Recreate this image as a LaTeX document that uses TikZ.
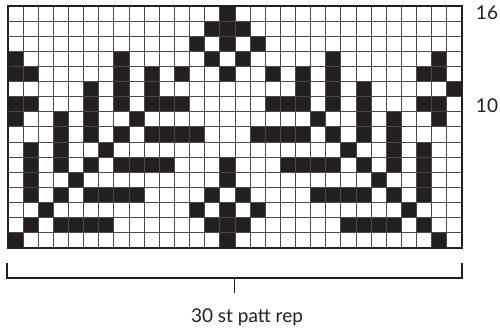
\documentclass[tikz,border=0pt]{standalone}
\usepackage{fontspec}
\setmainfont{Lato}
\definecolor{ink}{HTML}{231F20}
\definecolor{gridgray}{HTML}{4A4A4A}
\begin{document}
\begin{tikzpicture}[x=1pt,y=1pt,
  cellfill/.style={fill=ink},
  gridline/.style={draw=gridgray,line width=0.9pt},
  frameline/.style={draw=ink,line width=1.8pt},
  bracketline/.style={draw=ink,line width=1.9pt},
  lbl/.style={font=\fontsize{19}{21}\selectfont,text=ink,inner sep=0pt,anchor=base}]
\useasboundingbox (0,0) rectangle (500,333);
\def\cs{15.1333}
\def\gx{8}
\def\gy{85}
% filled cells, row 1 = bottom
\foreach \r/\cols in {
  1/{0,14,28},
  2/{1,3,4,5,6,13,14,15,22,23,24,25,27},
  3/{2,12,14,16,26},
  4/{1,3,5,6,7,8,13,15,20,21,22,23,25,27},
  5/{1,4,14,24,27},
  6/{1,3,5,7,8,9,10,14,18,19,20,21,23,25,27},
  7/{1,3,6,22,25,27},
  8/{3,5,7,9,10,11,12,16,17,18,19,21,23,25},
  9/{0,3,5,8,20,23,25,28},
  10/{0,1,5,7,9,10,11,17,18,19,21,23,27,28},
  11/{5,7,9,19,21,23,29},
  12/{0,1,7,9,11,14,17,19,21,27,28},
  13/{0,7,13,15,21,28},
  14/{12,14,16},
  15/{13,14,15},
  16/{14}}{
  \foreach \c in \cols {
    \fill[cellfill] ({\gx+\c*\cs},{\gy+(\r-1)*\cs}) rectangle ++(\cs,\cs);
  }
}
% grid lines
\foreach \i in {1,...,29} {
  \draw[gridline] ({\gx+\i*\cs},\gy) -- ++(0,{16*\cs});
}
\foreach \j in {1,...,15} {
  \draw[gridline] (\gx,{\gy+\j*\cs}) -- ++({30*\cs},0);
}
\draw[frameline] (\gx,\gy) rectangle ++({30*\cs},{16*\cs});
% row labels
\node[lbl] (r16) at (487,313) {16};
\node[lbl] (r10) at (487,221) {10};
% bracket
\coordinate (bl) at (7,70);
\coordinate (br) at (462,70);
\coordinate (bm) at (234.5,55);
\coordinate (bt) at (234.5,40);
\draw[bracketline] (bl) |- (bm) -| (br);
\draw[bracketline] (bm) -- (bt);
\node[lbl] (rep) at (247,11) {30 st patt rep};
\end{tikzpicture}
\end{document}
